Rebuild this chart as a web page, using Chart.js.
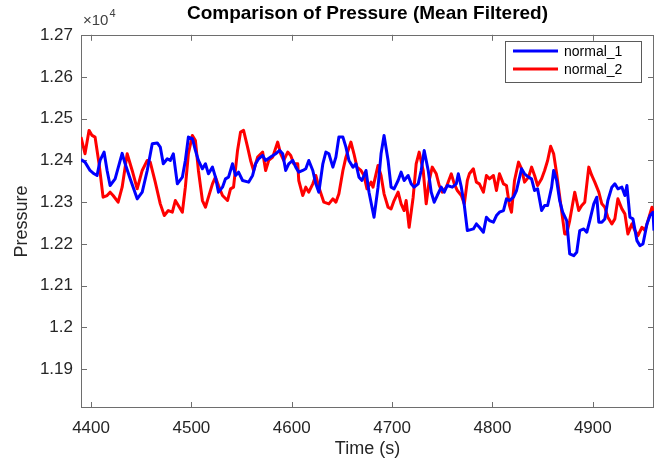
<!DOCTYPE html>
<html>
<head>
<meta charset="utf-8">
<script src="https://cdn.jsdelivr.net/npm/chart.js@4.4.1/dist/chart.umd.min.js"></script>
<style>
  html, body { margin: 0; padding: 0; background: #fff; }
</style>
</head>
<body>
<canvas id="myChart" width="664" height="462"></canvas>
<script>
// time (s), pressure
var normal1 = [
  [4390,12402],[4394,12396],[4399,12376],[4403,12368],[4406,12364],[4409,12400],[4413,12420],[4416,12376],
  [4419,12340],[4424,12356],[4431,12417],[4434,12392],[4439,12356],[4446,12308],[4451,12324],[4456,12376],
  [4461,12440],[4466,12442],[4469,12432],[4472,12392],[4476,12404],[4479,12400],[4482,12416],[4486,12344],
  [4491,12360],[4494,12400],[4497,12456],[4501,12452],[4504,12424],[4507,12400],[4511,12380],[4514,12392],
  [4517,12368],[4521,12384],[4524,12360],[4527,12324],[4531,12336],[4534,12356],[4537,12360],[4541,12392],
  [4544,12364],[4547,12372],[4551,12352],[4557,12348],[4561,12364],[4564,12392],[4567,12404],[4571,12412],
  [4574,12400],[4579,12408],[4584,12416],[4588,12424],[4591,12416],[4594,12376],[4597,12392],[4601,12400],
  [4604,12384],[4607,12372],[4611,12376],[4614,12380],[4617,12400],[4621,12376],[4624,12344],[4627,12324],
  [4631,12392],[4634,12420],[4637,12416],[4641,12384],[4644,12408],[4647,12456],[4651,12456],[4654,12432],
  [4657,12400],[4661,12384],[4664,12392],[4667,12360],[4670,12352],[4674,12376],[4677,12324],[4682,12264],
  [4686,12336],[4689,12416],[4692,12460],[4696,12400],[4699,12336],[4702,12332],[4706,12352],[4709,12372],
  [4712,12352],[4716,12364],[4719,12344],[4722,12336],[4726,12344],[4729,12376],[4732,12424],[4736,12376],
  [4739,12324],[4742,12300],[4745,12316],[4749,12336],[4752,12324],[4755,12340],[4760,12336],[4764,12344],
  [4766,12368],[4769,12336],[4772,12292],[4775,12232],[4781,12236],[4784,12248],[4787,12240],[4791,12228],
  [4794,12264],[4797,12256],[4801,12252],[4804,12268],[4807,12276],[4811,12280],[4814,12308],[4817,12304],
  [4821,12312],[4824,12328],[4829,12380],[4832,12368],[4836,12360],[4839,12356],[4842,12328],[4845,12332],
  [4849,12280],[4852,12292],[4855,12292],[4859,12336],[4861,12376],[4864,12352],[4867,12304],[4870,12276],
  [4874,12256],[4877,12176],[4881,12172],[4884,12180],[4887,12232],[4891,12236],[4894,12228],[4897,12256],
  [4901,12296],[4904,12312],[4906,12252],[4909,12252],[4912,12260],[4915,12304],[4919,12336],[4922,12344],
  [4925,12332],[4929,12336],[4932,12316],[4934,12340],[4937,12264],[4940,12260],[4944,12208],[4947,12196],
  [4950,12200],[4954,12248],[4957,12268],[4960,12276],[4961,12232]
];

var normal2 = [
  [4390,12456],[4394,12416],[4398,12472],[4401,12460],[4404,12456],[4408,12392],[4412,12312],[4416,12316],
  [4419,12324],[4422,12316],[4427,12300],[4431,12336],[4436,12416],[4441,12376],[4446,12332],[4451,12376],
  [4456,12400],[4459,12396],[4464,12348],[4469,12296],[4473,12268],[4477,12280],[4481,12276],[4484,12304],
  [4487,12292],[4491,12276],[4494,12336],[4497,12416],[4501,12460],[4504,12448],[4507,12376],[4511,12304],
  [4514,12288],[4517,12312],[4521,12344],[4524,12360],[4527,12340],[4531,12316],[4536,12304],[4539,12332],
  [4542,12336],[4546,12424],[4549,12468],[4552,12472],[4556,12432],[4559,12400],[4562,12376],[4566,12408],
  [4571,12420],[4574,12376],[4577,12400],[4581,12408],[4586,12444],[4589,12416],[4592,12400],[4596,12420],
  [4599,12412],[4602,12392],[4606,12392],[4607,12352],[4611,12316],[4614,12336],[4617,12324],[4621,12344],
  [4624,12364],[4627,12336],[4632,12300],[4637,12296],[4641,12308],[4644,12300],[4647,12320],[4651,12376],
  [4654,12408],[4659,12444],[4662,12416],[4665,12384],[4669,12376],[4672,12364],[4675,12332],[4679,12348],
  [4681,12336],[4686,12388],[4689,12364],[4692,12320],[4696,12288],[4699,12284],[4702,12304],[4706,12324],
  [4709,12296],[4712,12280],[4714,12304],[4717,12240],[4721,12312],[4724,12392],[4727,12420],[4731,12376],
  [4734,12296],[4737,12352],[4740,12384],[4744,12368],[4747,12340],[4750,12324],[4754,12336],[4759,12368],
  [4762,12344],[4765,12328],[4769,12316],[4772,12296],[4775,12352],[4777,12368],[4781,12380],[4784,12348],
  [4787,12344],[4791,12324],[4794,12364],[4797,12356],[4801,12364],[4804,12328],[4807,12368],[4811,12344],
  [4814,12340],[4817,12292],[4819,12276],[4822,12352],[4826,12396],[4829,12380],[4832,12348],[4836,12360],
  [4839,12384],[4842,12364],[4845,12340],[4849,12356],[4852,12376],[4855,12400],[4858,12434],[4861,12416],
  [4864,12368],[4868,12296],[4872,12224],[4874,12224],[4877,12256],[4882,12324],[4886,12280],[4889,12292],
  [4892,12300],[4896,12384],[4899,12364],[4902,12348],[4906,12324],[4909,12296],[4912,12288],[4915,12264],
  [4919,12248],[4922,12260],[4925,12308],[4929,12284],[4932,12272],[4935,12224],[4939,12248],[4942,12232],
  [4945,12220],[4949,12240],[4952,12232],[4955,12256],[4959,12288],[4961,12268]
];

var xTicks = [4400, 4500, 4600, 4700, 4800, 4900];
var yTicks = [11900, 12000, 12100, 12200, 12300, 12400, 12500, 12600, 12700];

var FONT = '"Liberation Sans", Arial, sans-serif';

function toPoints(arr) {
  return arr.map(function (p) { return {x: p[0], y: p[1]}; });
}

// MATLAB-style box, inward ticks, exponent label and legend
var matlabAxes = {
  id: 'matlabAxes',
  beforeDatasetsDraw: function (chart) {
    var ctx = chart.ctx, a = chart.chartArea, x = chart.scales.x, y = chart.scales.y;
    ctx.save();
    ctx.strokeStyle = '#6e6e6e';
    ctx.lineWidth = 1;
    ctx.strokeRect(Math.round(a.left) + 0.5, Math.round(a.top) + 0.5,
      Math.round(a.right) - Math.round(a.left) - 1, Math.round(a.bottom) - Math.round(a.top) - 1);
    ctx.beginPath();
    xTicks.forEach(function (v) {
      var px = Math.round(x.getPixelForValue(v)) + 0.5;
      ctx.moveTo(px, a.bottom); ctx.lineTo(px, a.bottom - 6);
      ctx.moveTo(px, a.top); ctx.lineTo(px, a.top + 6);
    });
    yTicks.forEach(function (v) {
      var py = Math.round(y.getPixelForValue(v)) + 0.5;
      ctx.moveTo(a.left, py); ctx.lineTo(a.left + 6, py);
      ctx.moveTo(a.right, py); ctx.lineTo(a.right - 6, py);
    });
    ctx.stroke();

    ctx.fillStyle = '#404040';
    ctx.textBaseline = 'alphabetic';
    ctx.textAlign = 'left';
    ctx.font = '15px ' + FONT;
    ctx.fillText('\u00d710', a.left + 2, a.top - 10);
    var w = ctx.measureText('\u00d710').width;
    ctx.font = '11px ' + FONT;
    ctx.fillText('4', a.left + 3 + w, a.top - 18);
    ctx.restore();
  },
  afterDatasetsDraw: function (chart) {
    var ctx = chart.ctx, a = chart.chartArea;
    var bx = Math.round(a.right) - 149, by = Math.round(a.top) + 6;
    ctx.save();
    ctx.fillStyle = '#fff';
    ctx.fillRect(bx, by, 136, 41);
    ctx.strokeStyle = '#5a5a5a';
    ctx.lineWidth = 1;
    ctx.strokeRect(bx + 0.5, by + 0.5, 136, 41);
    chart.data.datasets.forEach(function (ds, i) {
      var ry = by + 10 + i * 18;
      ctx.strokeStyle = ds.borderColor;
      ctx.lineWidth = 3;
      ctx.beginPath();
      ctx.moveTo(bx + 8, ry); ctx.lineTo(bx + 53, ry);
      ctx.stroke();
      ctx.fillStyle = '#000';
      ctx.font = '14px ' + FONT;
      ctx.textBaseline = 'middle';
      ctx.fillText(ds.label, bx + 59, ry + 1);
    });
    ctx.restore();
  }
};

var ctx = document.getElementById('myChart').getContext('2d');
var myChart = new Chart(ctx, {
  type: 'line',
  data: {
    datasets: [{
      label: 'normal_1',
      data: toPoints(normal1),
      borderColor: '#0000ff',
      backgroundColor: '#0000ff',
      borderWidth: 3,
    }, {
      label: 'normal_2',
      data: toPoints(normal2),
      borderColor: '#ff0000',
      backgroundColor: '#ff0000',
      borderWidth: 3,
    }]
  },
  options: {
    responsive: false,
    animation: false,
    layout: { padding: { left: 0, right: 10, top: 0, bottom: 0 } },
    elements: { point: { radius: 0 }, line: { tension: 0, borderJoinStyle: 'round' } },
    plugins: {
      legend: { display: false },
      tooltip: { enabled: false },
      title: {
        display: true,
        fullSize: false,
        text: 'Comparison of Pressure (Mean Filtered)',
        color: '#000',
        font: { family: FONT, size: 19, weight: 'bold' },
        padding: { top: 2, bottom: 10 }
      }
    },
    scales: {
      x: {
        type: 'linear',
        min: 4390,
        max: 4961,
        grid: { display: false, drawTicks: false },
        border: { display: false },
        afterBuildTicks: function (s) { s.ticks = xTicks.map(function (v) { return {value: v}; }); },
        afterFit: function (s) { s.height = 54; },
        ticks: {
          color: '#262626',
          padding: 10,
          maxRotation: 0,
          font: { family: FONT, size: 17 },
          callback: function (v) { return String(v); }
        },
        title: {
          display: true,
          text: 'Time (s)',
          color: '#262626',
          font: { family: FONT, size: 18 },
          padding: { top: 0, bottom: 2 }
        }
      },
      y: {
        min: 11807,
        max: 12701,
        grid: { display: false, drawTicks: false },
        border: { display: false },
        afterBuildTicks: function (s) { s.ticks = yTicks.map(function (v) { return {value: v}; }); },
        afterFit: function (s) { s.width = 81; },
        ticks: {
          color: '#262626',
          padding: 8,
          font: { family: FONT, size: 17 },
          callback: function (v) { return String(Number((v / 10000).toFixed(2))); }
        },
        title: {
          display: true,
          text: 'Pressure',
          color: '#262626',
          font: { family: FONT, size: 18 },
          padding: { top: 11, bottom: 0 }
        }
      }
    }
  },
  plugins: [matlabAxes]
});
</script>
</body>
</html>
